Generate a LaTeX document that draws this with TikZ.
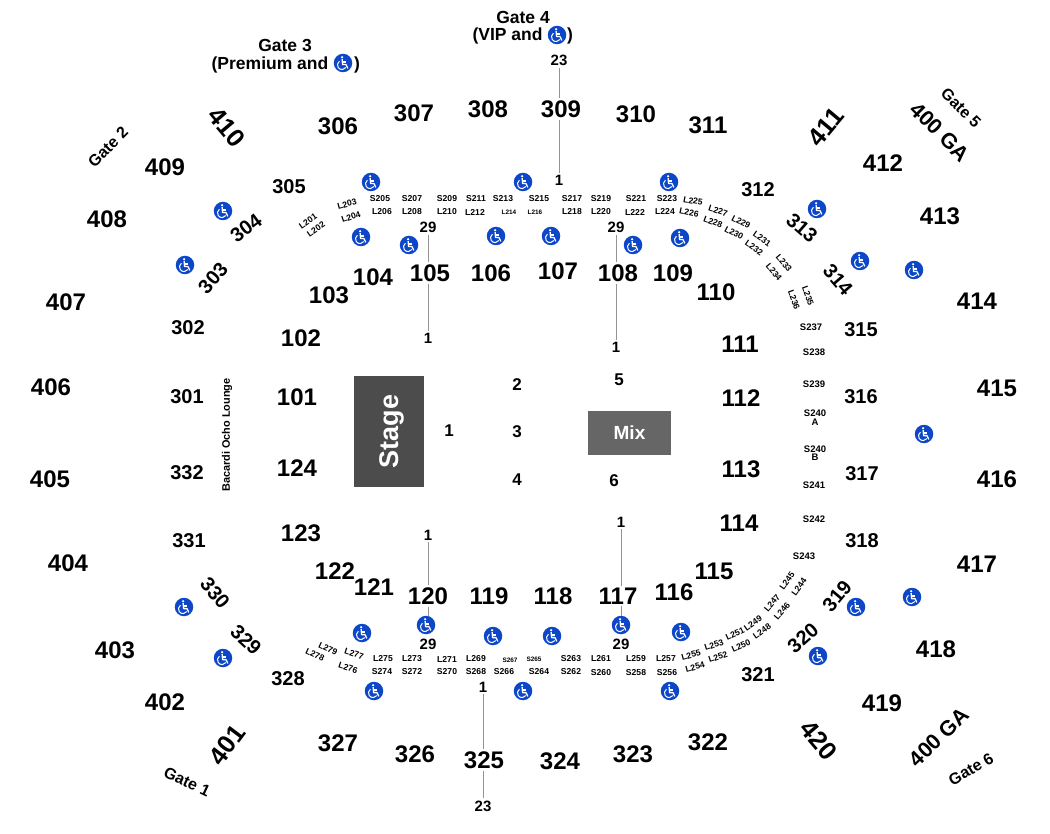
\documentclass[tikz,border=0pt]{standalone}
\usepackage{fontspec}
\setmainfont{Liberation Sans}
\definecolor{wheelblue}{HTML}{0D47C8}
\tikzset{
    seclabel/.style={inner sep=0pt, font=\bfseries\fontsize{24}{24}\selectfont},
    turnlabel/.style={inner sep=0pt, font=\bfseries\fontsize{25.5}{26}\selectfont},
    galabel/.style={inner sep=0pt, font=\bfseries\fontsize{21.5}{22}\selectfont},
    midlabel/.style={inner sep=0pt, font=\bfseries\fontsize{20}{20}\selectfont},
    rowlabel/.style={inner sep=0pt, font=\bfseries\fontsize{8.6}{9}\selectfont},
    sidelabel/.style={inner sep=0pt, font=\bfseries\fontsize{9.5}{10}\selectfont},
    tinylabel/.style={inner sep=0pt, font=\bfseries\fontsize{6.4}{7}\selectfont},
    numlabel/.style={inner sep=0pt, font=\bfseries\fontsize{15}{15}\selectfont},
    floorlabel/.style={inner sep=0pt, font=\bfseries\fontsize{17}{17}\selectfont},
    gatelabel/.style={inner sep=0pt, font=\bfseries\fontsize{17.5}{18}\selectfont},
    gatetilt/.style={inner sep=0pt, font=\bfseries\fontsize{16}{16}\selectfont},
    aisleline/.style={draw=gray!85, line width=0.9pt, shorten >=2pt, shorten <=2pt},
    wheelchair/.pic={
        \node[circle, fill=wheelblue, inner sep=0pt, minimum size=18.5pt] (-disc) at (0,0) {};
        \fill[white] (-0.9,-5.8) circle (1.25);
        \draw[white, line width=1.3pt, line join=round] (-0.9,-3.8) -- (-0.4,1.6) -- (3,1.6) -- (4.8,5.4);
        \draw[white, line width=1.1pt] (-0.7,-1) -- (2.6,-1);
        \draw[white, line width=1pt] (-3.6,-1.8) arc (235:35:4.6);
    }
}
\begin{document}
\begin{tikzpicture}[x=1pt, y=-1pt]
    \useasboundingbox (0,0) rectangle (1050,834);

    % Lower bowl and most of the outer bowl
    \foreach \x/\y/\lab in {
        297/397/101, 301/338/102, 329/295/103, 373/277/104, 430/273/105, 491/273/106,
        558/271/107, 618/273/108, 673/273/109, 716/292/110, 740/344/111, 741/398/112,
        741/469/113, 739/523/114, 714/571/115, 674/592/116, 618/596/117, 553/596/118,
        489/596/119, 428/596/120, 374/587/121, 335/571/122, 301/533/123, 297/468/124,
        338/126/306, 414/113/307, 488/109/308, 561/109/309, 636/114/310, 708/125/311,
        708/742/322, 633/754/323, 560/761/324, 484/760/325, 415/754/326, 338/743/327,
        165/702/402, 115/650/403, 68/563/404, 50/479/405, 51/387/406, 66/302/407,
        107/219/408, 165/167/409, 883/163/412, 940/216/413, 977/301/414, 997/388/415,
        997/479/416, 977/564/417, 936/649/418, 882/703/419} {
        \node[seclabel] (s\lab) at (\x,\y) {\lab};
    }

    % Smaller upper sections
    \foreach \x/\y/\lab in {
        187/397/301, 188/328/302, 289/187/305, 758/190/312, 861/330/315, 861/397/316,
        862/474/317, 862/541/318, 758/675/321, 288/679/328, 189/541/331, 187/473/332} {
        \node[midlabel] (s\lab) at (\x,\y) {\lab};
    }

    % Sections that follow the curve
    \foreach \x/\y/\lab/\ang in {
        213/278/303/49, 246/228/304/37, 802/228/313/-41, 838/280/314/-49,
        837/596/319/50, 803/638/320/41, 246/640/329/-43, 215/593/330/-50} {
        \node[midlabel, rotate=\ang] (s\lab) at (\x,\y) {\lab};
    }
    \foreach \x/\y/\lab/\ang in {
        227/745/401/53, 227/127/410/-50, 826/127/411/50, 819/740/420/-50} {
        \node[turnlabel, rotate=\ang] (s\lab) at (\x,\y) {\lab};
    }
    \node[galabel, rotate=-45] (gatop) at (940,132) {400 GA};
    \node[galabel, rotate=44] (gabot) at (939,737) {400 GA};

    % Gates
    \node[gatetilt, rotate=-25] (gate1) at (187,782) {Gate 1};
    \node[gatetilt, rotate=45] (gate2) at (108,147) {Gate 2};
    \node[gatelabel] (gate3) at (285,45) {Gate 3};
    \node[gatelabel] (gate3b) at (270,64.5) {(Premium and};
    \node[gatelabel] (gate3c) at (357,64.5) {)};
    \pic (wgate3) at (343,63) {wheelchair};
    \node[gatelabel] (gate4) at (523,17) {Gate 4};
    \node[gatelabel] (gate4b) at (507.5,35.5) {(VIP and};
    \node[gatelabel] (gate4c) at (570,35.5) {)};
    \pic (wgate4) at (557,35) {wheelchair};
    \node[gatetilt, rotate=-45] (gate5) at (961,108) {Gate 5};
    \node[gatetilt, rotate=30] (gate6) at (971,769) {Gate 6};

    % Suites and loges in straight rows
    \foreach \x/\y/\lab in {
        380/199/S205, 382/212/L206, 412/199/S207, 412/212/L208, 447/199/S209, 447/212/L210,
        476/199/S211, 475/212/L212, 503/199/S213, 539/199/S215, 572/199/S217, 572/212/L218,
        601/199/S219, 601/212/L220, 636/199/S221, 635/212/L222, 667/199/S223, 665/211/L224,
        383/659/L275, 382/672/S274, 412/659/L273, 412/672/S272, 447/659/L271, 447/672/S270,
        476/659/L269, 476/672/S268, 504/672/S266, 539/672/S264, 571/659/S263, 571/672/S262,
        601/659/L261, 601/673/S260, 636/659/L259, 636/673/S258, 666/659/L257, 667/673/S256} {
        \node[rowlabel] (r\lab) at (\x,\y) {\lab};
    }
    \foreach \x/\y/\lab in {
        811/327/S237, 814/352/S238, 814/384/S239, 814/485/S241, 814/519/S242, 804/556/S243} {
        \node[sidelabel] (r\lab) at (\x,\y) {\lab};
    }
    \node[sidelabel] (rS240a) at (815,413) {S240};
    \node[sidelabel] (rA) at (815,422) {A};
    \node[sidelabel] (rS240b) at (815,449) {S240};
    \node[sidelabel] (rB) at (815,457) {B};
    \foreach \x/\y/\lab in {509/212/L214, 535/212/L216, 510/660/S267, 534/659/S265} {
        \node[tinylabel] (r\lab) at (\x,\y) {\lab};
    }

    % Loges on the curve
    \foreach \x/\y/\lab/\ang in {
        308/221/L201/35, 316/229/L202/35, 347/204/L203/15, 351/217/L204/18,
        693/201/L225/-10, 689/213/L226/-12, 718/211/L227/-18, 713/222/L228/-20,
        741/222/L229/-28, 734/233/L230/-28, 762/239/L231/-35, 754/248/L232/-35,
        784/263/L233/-50, 774/272/L234/-50, 808/296/L235/-70, 794/300/L236/-70,
        799/587/L244/55, 787/581/L245/55, 782/611/L246/50, 772/603/L247/50,
        762/631/L248/35, 753/623/L249/35, 741/646/L250/25, 735/634/L251/25,
        718/657/L252/18, 714/645/L253/18, 695/667/L254/15, 691/655/L255/15,
        348/668/L276/-18, 354/654/L277/-18, 315/655/L278/-25, 328/649/L279/-25} {
        \node[rowlabel, rotate=\ang] (r\lab) at (\x,\y) {\lab};
    }

    % Lounge, stage and mix
    \node[rowlabel, rotate=90, font=\bfseries\fontsize{10.9}{11}\selectfont] (lounge) at (227,435) {Bacardi Ocho Lounge};
    \node[fill=black!70, text=white, rotate=90, minimum width=111pt, minimum height=70pt, inner sep=0pt,
        text depth=0pt, font=\bfseries\fontsize{27}{27}\selectfont] (stage) at (389,431.5) {Stage};
    \node[fill=black!60, text=white, minimum width=83pt, minimum height=44pt, inner sep=0pt,
        font=\bfseries\fontsize{19}{19}\selectfont] (mix) at (629.5,433) {Mix};

    % Floor rows
    \foreach \x/\y/\lab in {449/431/1, 517/385/2, 517/432/3, 517/480/4, 619/380/5, 614/481/6} {
        \node[floorlabel] (f\lab) at (\x,\y) {\lab};
    }

    % Row numbers at the ends of the aisles
    \node[numlabel] (rowa) at (559,60) {23};
    \node[numlabel] (rowb) at (559,180) {1};
    \node[numlabel] (rowc) at (428,227) {29};
    \node[numlabel] (rowd) at (428,338) {1};
    \node[numlabel] (rowe) at (616,227) {29};
    \node[numlabel] (rowf) at (616,347) {1};
    \node[numlabel] (rowg) at (428,535) {1};
    \node[numlabel] (rowh) at (428,644) {29};
    \node[numlabel] (rowi) at (621,522) {1};
    \node[numlabel] (rowj) at (621,644) {29};
    \node[numlabel] (rowk) at (483,687) {1};
    \node[numlabel] (rowl) at (483,806) {23};

    % Wheelchair spaces
    \foreach \x/\y/\n in {
        371/182/a, 523/182/b, 669/182/c, 361/237/d, 409/245/e, 496/236/f, 551/236/g,
        633/245/h, 680/238/i, 817/209/j, 860/261/k, 914/270/l, 223/211/m, 185/265/n,
        924/434/o, 912/597/p, 856/607/q, 818/656/r, 184/607/s, 223/658/t, 362/633/u,
        426/625/v, 493/636/w, 552/636/x, 621/625/y, 681/632/z, 374/691/aa, 523/691/ab,
        670/691/ac} {
        \pic (w\n) at (\x,\y) {wheelchair};
    }

    % Aisles
    \draw[aisleline] (rowa.south) -- (rowa.south |- s309.north);
    \draw[aisleline] (rowb.north |- s309.south) -- (rowb.north);
    \draw[aisleline] (rowc.south) -- (rowc.south |- s105.north);
    \draw[aisleline] (rowd.north |- s105.south) -- (rowd.north);
    \draw[aisleline] (rowe.south) -- (rowe.south |- s108.north);
    \draw[aisleline] (rowf.north |- s108.south) -- (rowf.north);
    \draw[aisleline] (rowg.south) -- (rowg.south |- s120.north);
    \draw[aisleline, shorten >=0pt] (rowg |- s120.south) -- (rowg |- wv-disc.north);
    \draw[aisleline] (rowi.south) -- (rowi.south |- s117.north);
    \draw[aisleline, shorten >=0pt] (rowi |- s117.south) -- (wy-disc.north);
    \draw[aisleline] (rowk.south) -- (rowk.south |- s325.north);
    \draw[aisleline] (rowk |- s325.south) -- (rowl.north);
\end{tikzpicture}
\end{document}
